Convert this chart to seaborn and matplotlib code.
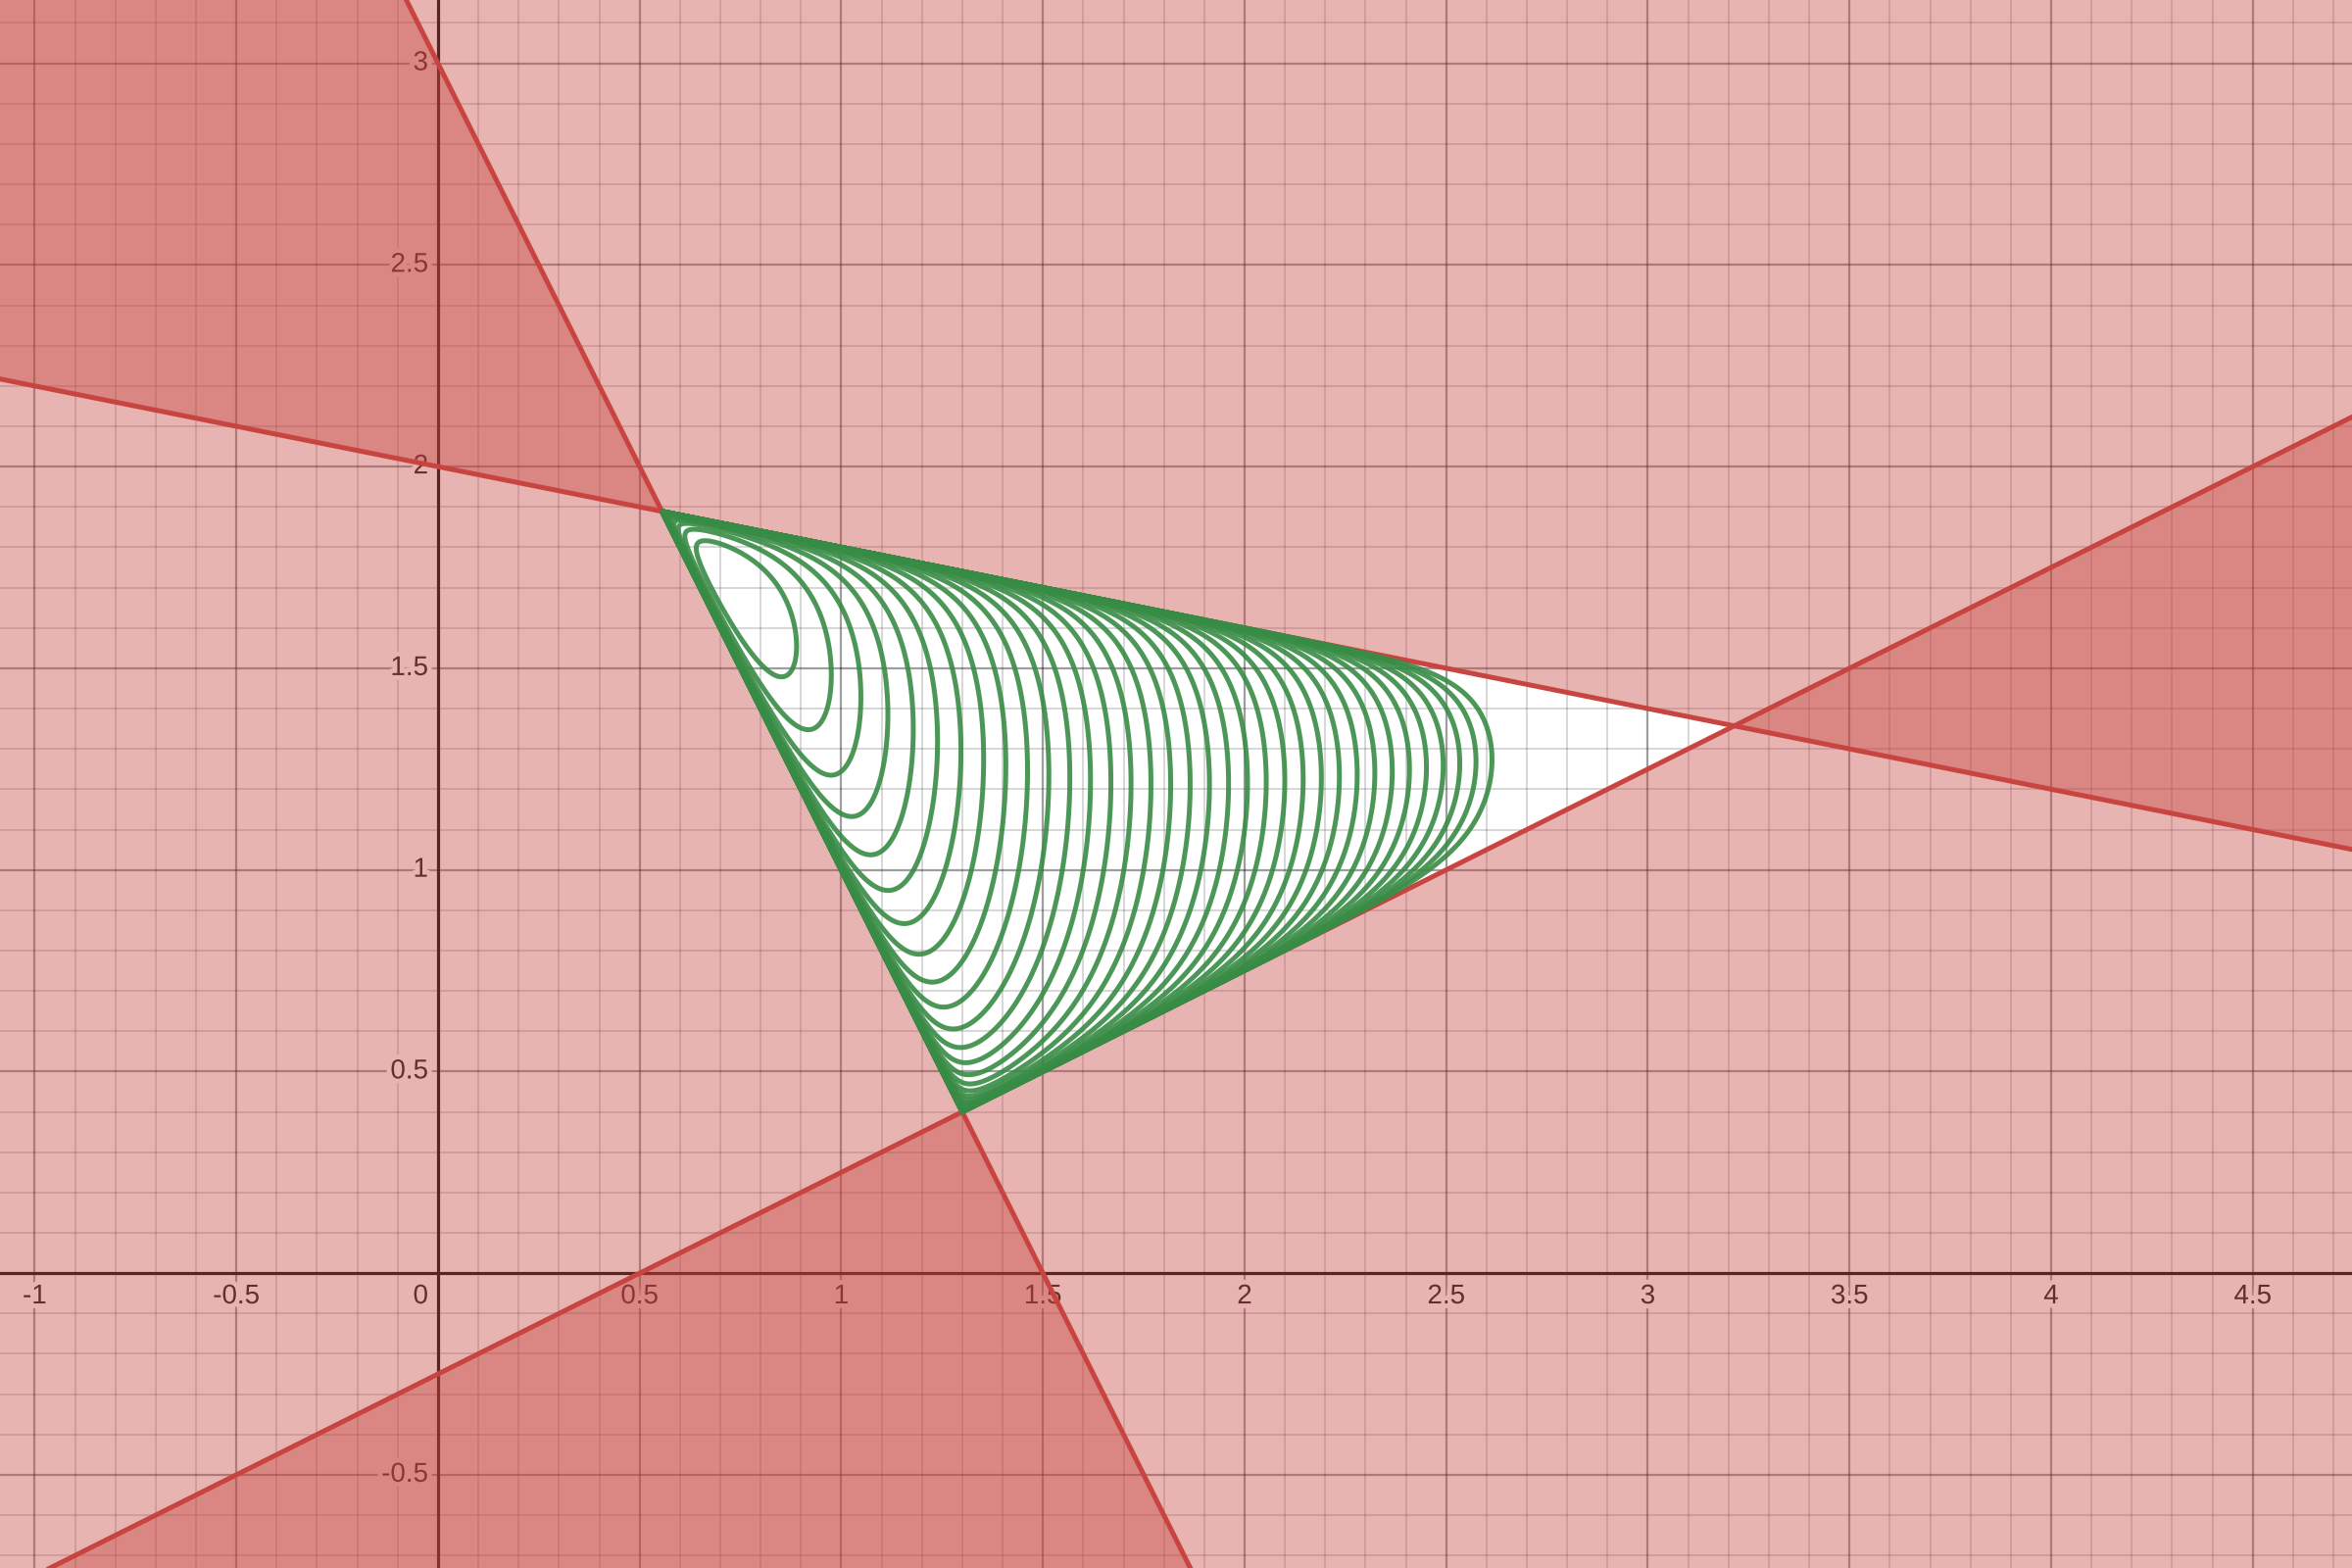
import numpy as np
import pandas as pd
import matplotlib
matplotlib.use('Agg')
import matplotlib.pyplot as plt
import matplotlib.patheffects as pe
import seaborn as sns

# three constraints  a*x + b*y <= c  (the feasible side stays white)
line_coef = [(1, 5, 10), (-2, -1, -3), (1, -2, 0.5)]

x_lim = (-1.086, 4.746)
y_lim = (-0.731, 3.157)

x_labels = [-1, -0.5, 0, 0.5, 1, 1.5, 2, 2.5, 3, 3.5, 4, 4.5]
y_labels = [-0.5, 0.5, 1, 1.5, 2, 2.5, 3]

# green loops: level sets of the log-barrier  t*(obj . x) - sum(log slack)
barrier_t = 10
objective = (1, 0)
barrier_levels = [8.7, 9.2, 9.7, 10.2, 10.7, 11.2, 11.7, 12.2, 12.7, 13.2,
                  13.7, 14.2, 14.7, 15.2, 15.7, 16.2, 16.7, 17.2, 17.7, 18.2,
                  18.7, 19.2, 19.7, 20.2, 20.7, 21.2, 21.7, 22.2, 22.7, 23.2,
                  23.7, 24.2, 24.7, 25.2, 25.7]

RED = '#c74440'
GREEN = '#388c46'


def meet(l1, l2):
    m = np.array([[l1[0], l1[1]], [l2[0], l2[1]]], float)
    return np.linalg.solve(m, [l1[2], l2[2]])


A = meet(line_coef[0], line_coef[1])
B = meet(line_coef[1], line_coef[2])
C = meet(line_coef[0], line_coef[2])

sns.set_theme(style='white')
plt.rcParams['font.family'] = ['Liberation Sans', 'DejaVu Sans']

fig = plt.figure(figsize=(24, 16), dpi=100)
ax = fig.add_axes([0, 0, 1, 1])
ax.set_xlim(*x_lim)
ax.set_ylim(*y_lim)
ax.set_axis_off()

# grid
for v in np.arange(-1.5, 5.01, 0.1):
    v = round(v, 1)
    major = abs(v * 2 - round(v * 2)) < 1e-6
    col = (0, 0, 0, 0.38) if major else (0, 0, 0, 0.2)
    lw = 1.6 if major else 1.1
    if v != 0:
        ax.axvline(v, color=col, lw=lw, zorder=1)
        ax.axhline(v, color=col, lw=lw, zorder=1)
ax.axvline(0, color='#111111', lw=2.3, zorder=1.5)
ax.axhline(0, color='#111111', lw=2.3, zorder=1.5)

# tick labels
halo = [pe.withStroke(linewidth=7, foreground='white')]
dx = 0.024
dy = 0.058
for v in x_labels:
    if v == 0:
        ax.text(-dx, -dy, '0', ha='right', va='center', fontsize=20,
                color='#222222', path_effects=halo, zorder=2)
    else:
        ax.text(v, -dy, f'{v:g}', ha='center', va='center', fontsize=20,
                color='#222222', path_effects=halo, zorder=2)
for v in y_labels:
    ax.text(-dx, v, f'{v:g}', ha='right', va='center', fontsize=20,
            color='#222222', path_effects=halo, zorder=2)

# shaded (infeasible) half-planes and boundary lines
xs = np.linspace(x_lim[0] - 1, x_lim[1] + 1, 800)
big = 50
rows = []
for i, (a, b, c) in enumerate(line_coef):
    ys = (c - a * xs) / b
    if b < 0:   # a*x + b*y > c  means y below the line
        ax.fill_between(xs, -big, ys, color=RED, alpha=0.4, lw=0, zorder=3)
    else:
        ax.fill_between(xs, ys, big, color=RED, alpha=0.4, lw=0, zorder=3)
    for xv, yv in zip(xs, ys):
        rows.append({'line': i, 'x': xv, 'y': yv})
lines_df = pd.DataFrame(rows)
sns.lineplot(data=lines_df, x='x', y='y', units='line', estimator=None,
             color=RED, lw=3.6, sort=False, ax=ax, zorder=5)

# barrier level sets, evaluated on a grid in barycentric coordinates of the
# feasible triangle (clustered towards the sides)
N = 1800
s = np.linspace(0, 1, N + 2)[1:-1]
s = 0.5 - 0.5 * np.cos(np.pi * s)
s = 0.5 - 0.5 * np.cos(np.pi * s)
GB, GT = np.meshgrid(s, s)
GC = (1 - GB) * GT
GA = (1 - GB) * (1 - GT)
GX = A[0] + GB * (B[0] - A[0]) + GC * (C[0] - A[0])
GY = A[1] + GB * (B[1] - A[1]) + GC * (C[1] - A[1])
# slack of each constraint is proportional to one barycentric coordinate
bary_of_line = [GB, GC, GA]
opposite = [B, C, A]
F = barrier_t * (objective[0] * GX + objective[1] * GY)
for (a, b, c), w, P in zip(line_coef, bary_of_line, opposite):
    full = c - a * P[0] - b * P[1]
    F = F - np.log(full * w)
ax.contour(GX, GY, F, levels=barrier_levels, colors=GREEN, linewidths=3.6,
           linestyles='solid', alpha=0.9, zorder=6)

ax.set_xlim(*x_lim)
ax.set_ylim(*y_lim)
fig.savefig('out.png', dpi=100)
